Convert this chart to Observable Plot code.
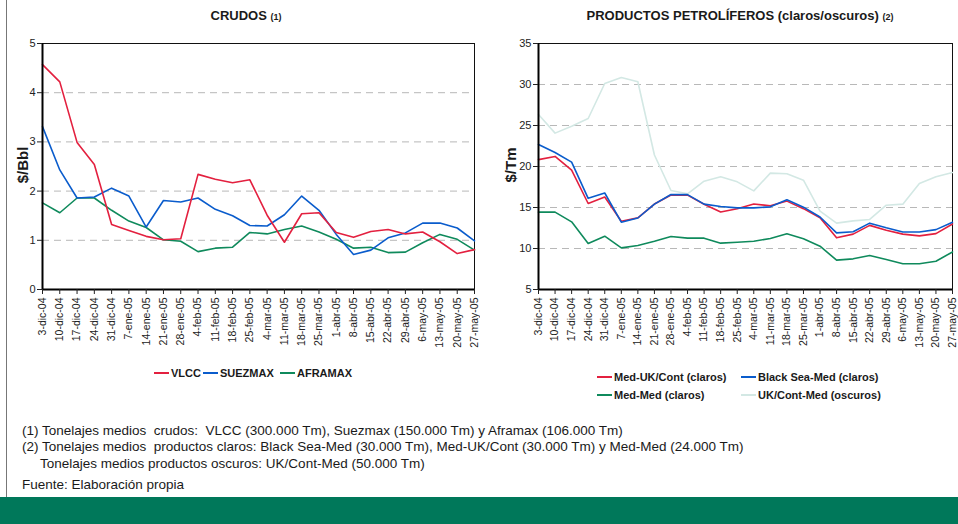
<!DOCTYPE html>
<html>
<head>
<meta charset="utf-8">
<script src="https://cdn.jsdelivr.net/npm/d3@7"></script>
<script src="https://cdn.jsdelivr.net/npm/@observablehq/plot@0.6"></script>
<style>
  html, body { margin: 0; padding: 0; background: #fff; }
  body { width: 958px; height: 524px; position: relative; overflow: hidden; font-family: "Liberation Sans", Arial, sans-serif; color: #1a1a1a; }
  .abs { position: absolute; }
  .title { font-weight: bold; font-size: 13px; white-space: nowrap; transform: translateX(-50%); }
  .title small { font-size: 9px; }
  .ylab { font-weight: bold; font-size: 15px; transform: translate(-50%, -50%) rotate(-90deg); white-space: nowrap; }
  .leg { font-weight: bold; font-size: 11px; white-space: nowrap; display: flex; align-items: center; }
  .leg .sw { display: inline-block; width: 15px; height: 2px; margin-right: 2px; }
  .note { font-size: 13.5px; white-space: nowrap; }
</style>
</head>
<body>
<div id="left" class="abs" style="left:0;top:0"></div>
<div id="right" class="abs" style="left:490px;top:0"></div>
<script>
const dates = ["3-dic-04","10-dic-04","17-dic-04","24-dic-04","31-dic-04","7-ene-05","14-ene-05","21-ene-05","28-ene-05","4-feb-05","11-feb-05","18-feb-05","25-feb-05","4-mar-05","11-mar-05","18-mar-05","25-mar-05","1-abr-05","8-abr-05","15-abr-05","22-abr-05","29-abr-05","6-may-05","13-may-05","20-may-05","27-may-05"];

// CRUDOS ($/Bbl)
const vlcc    = [4.57,4.22,2.99,2.54,1.32,1.20,1.08,1.01,1.03,2.34,2.24,2.17,2.23,1.51,0.96,1.54,1.56,1.16,1.06,1.18,1.22,1.13,1.17,0.97,0.73,0.81];
const suezmax = [3.31,2.43,1.86,1.88,2.06,1.90,1.27,1.81,1.78,1.86,1.63,1.50,1.30,1.29,1.52,1.90,1.61,1.12,0.71,0.80,1.05,1.15,1.35,1.35,1.25,0.99];
const aframax = [1.76,1.56,1.86,1.86,1.61,1.39,1.26,1.01,0.98,0.77,0.84,0.86,1.16,1.13,1.22,1.29,1.17,1.02,0.84,0.86,0.75,0.76,0.95,1.12,1.02,0.80];

// PRODUCTOS PETROLÍFEROS ($/Tm)
const medUkCont  = [20.84,21.23,19.56,15.49,16.28,13.33,13.74,15.42,16.53,16.51,15.40,14.45,14.85,15.42,15.21,15.78,14.86,13.74,11.30,11.75,12.82,12.22,11.75,11.54,11.81,12.99];
const blackSea   = [22.69,21.70,20.54,16.12,16.77,13.21,13.72,15.41,16.59,16.57,15.41,15.12,14.96,14.96,15.08,15.94,15.04,13.84,11.91,12.05,13.09,12.52,12.02,12.02,12.30,13.20];
const medMed     = [14.43,14.43,13.25,10.61,11.50,10.08,10.37,10.89,11.46,11.26,11.26,10.65,10.77,10.89,11.22,11.79,11.18,10.28,8.58,8.74,9.15,8.66,8.14,8.14,8.45,9.58];
const ukContMed  = [26.34,24.07,24.92,25.85,30.12,30.85,30.33,21.40,17.07,16.67,18.21,18.74,18.13,17.03,19.19,19.11,18.33,14.55,13.09,13.37,13.54,15.28,15.41,17.93,18.74,19.27];

const leftTicks  = [0,1,2,3,4,5];
const rightTicks = [5,10,15,20,25,30,35];

const colors = {
  vlcc: "#e3203f", suezmax: "#0a5ccc", aframax: "#0f8a5c",
  medUk: "#e3203f", blackSea: "#0a5ccc", medMed: "#0f8a5c", ukCont: "#d3e8e4"
};

const rows = (arr) => dates.map((d, i) => ({d, v: arr[i]}));
const font = {fontFamily: "'Liberation Sans', Arial, sans-serif", fontSize: "11px", color: "#222", background: "transparent"};

function chart(opts) {
  const {width, marginLeft, marginRight, domain, ticks, series} = opts;
  const grid = ticks.slice(1, -1);
  return Plot.plot({
    width, height: 360,
    marginLeft, marginRight, marginTop: 43, marginBottom: 71,
    style: font,
    x: {type: "point", domain: dates, padding: 0, round: false},
    y: {domain, ticks},
    marks: [
      Plot.gridY(grid, {stroke: "#9a9a9a", strokeOpacity: 0.7, strokeDasharray: "7,5", strokeWidth: 1}),
      Plot.frame({stroke: "#111", strokeWidth: 1}),
      ...series.map(s => Plot.line(rows(s.data), {x: "d", y: "v", stroke: s.color, strokeWidth: s.w || 1.6})),
      Plot.ruleY([domain[0]], {stroke: "#000", strokeWidth: 2}),
      Plot.ruleX([dates[0]], {stroke: "#000", strokeWidth: 2}),
      Plot.axisY(ticks, {tickSize: 5, tickPadding: 2, label: null, fontSize: 11}),
      Plot.axisX({tickRotate: -90, tickSize: 5, tickPadding: 3, label: null, fontSize: 10.5})
    ]
  });
}

document.getElementById("left").append(chart({
  width: 480, marginLeft: 42, marginRight: 6, domain: [0, 5], ticks: leftTicks,
  series: [
    {data: aframax, color: colors.aframax},
    {data: suezmax, color: colors.suezmax},
    {data: vlcc, color: colors.vlcc}
  ]
}));

document.getElementById("right").append(chart({
  width: 468, marginLeft: 48, marginRight: 6, domain: [5, 35], ticks: rightTicks,
  series: [
    {data: ukContMed, color: colors.ukCont},
    {data: medMed, color: colors.medMed},
    {data: medUkCont, color: colors.medUk},
    {data: blackSea, color: colors.blackSea}
  ]
}));

function add(html, cls, style) {
  const el = document.createElement("div");
  el.className = "abs " + cls;
  el.setAttribute("style", style);
  el.innerHTML = html;
  document.body.append(el);
  return el;
}
add("CRUDOS <small>(1)</small>", "title", "left:246px;top:8px");
add("PRODUCTOS PETROLÍFEROS (claros/oscuros) <small>(2)</small>", "title", "left:740px;top:8px");
add("$/Bbl", "ylab", "left:22px;top:165px");
add("$/Tm", "ylab", "left:510px;top:165px");

const legItem = (label, color) => `<span class="sw" style="background:${color}"></span>${label}`;
add(legItem("VLCC", colors.vlcc), "leg", "left:154px;top:367px");
add(legItem("SUEZMAX", colors.suezmax), "leg", "left:203px;top:367px");
add(legItem("AFRAMAX", colors.aframax), "leg", "left:280px;top:367px");

add(legItem("Med-UK/Cont (claros)", colors.medUk), "leg", "left:597px;top:371px");
add(legItem("Black Sea-Med (claros)", colors.blackSea), "leg", "left:741px;top:371px");
add(legItem("Med-Med (claros)", colors.medMed), "leg", "left:597px;top:389px");
add(legItem("UK/Cont-Med (oscuros)", colors.ukCont), "leg", "left:741px;top:389px");

add("(1) Tonelajes medios&nbsp; crudos:&nbsp; VLCC (300.000 Tm), Suezmax (150.000 Tm) y Aframax (106.000 Tm)", "note", "left:22px;top:423px");
add("(2) Tonelajes medios&nbsp; productos claros: Black Sea-Med (30.000 Tm), Med-UK/Cont (30.000 Tm) y Med-Med (24.000 Tm)", "note", "left:22px;top:439px");
add("Tonelajes medios productos oscuros: UK/Cont-Med (50.000 Tm)", "note", "left:40px;top:456px");
add("Fuente: Elaboración propia", "note", "left:22px;top:477px");

add("", "", "left:6px;top:0;width:1px;height:497px;background:#777");
add("", "", "left:0;top:497px;width:958px;height:27px;background:#00785a");
</script>
</body>
</html>
